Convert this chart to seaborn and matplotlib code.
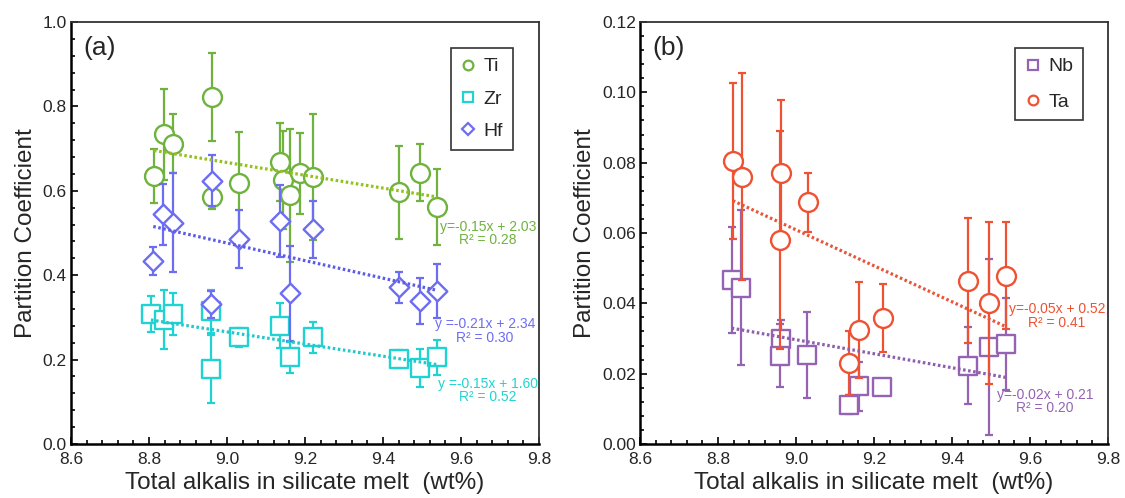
import numpy as np
import pandas as pd
import matplotlib
matplotlib.use("Agg")
import matplotlib.pyplot as plt
from matplotlib.ticker import AutoMinorLocator, FormatStrFormatter, MultipleLocator
from matplotlib.lines import Line2D
import seaborn as sns

# ---------------- data ----------------
# Panel (a)
ti_x = [8.813, 8.839, 8.862, 8.962, 8.962, 9.031, 9.137, 9.143, 9.162, 9.187, 9.221, 9.441, 9.495, 9.539]
ti_y = [0.636, 0.734, 0.712, 0.822, 0.586, 0.618, 0.669, 0.626, 0.589, 0.641, 0.633, 0.596, 0.643, 0.562]
ti_err = [0.064, 0.108, 0.071, 0.105, 0.028, 0.122, 0.092, 0.116, 0.158, 0.097, 0.150, 0.110, 0.068, 0.090]

zr_x = [8.805, 8.838, 8.862, 8.959, 8.959, 9.031, 9.137, 9.162, 9.221, 9.441, 9.495, 9.539]
zr_y = [0.308, 0.294, 0.308, 0.314, 0.178, 0.253, 0.280, 0.205, 0.253, 0.201, 0.181, 0.205]
zr_err = [0.043, 0.070, 0.050, 0.050, 0.080, 0.023, 0.053, 0.036, 0.037, 0.022, 0.045, 0.042]

hf_x = [8.811, 8.837, 8.862, 8.959, 8.962, 9.031, 9.137, 9.162, 9.221, 9.441, 9.495, 9.539]
hf_y = [0.434, 0.544, 0.524, 0.331, 0.624, 0.486, 0.529, 0.357, 0.509, 0.371, 0.339, 0.363]
hf_err = [0.033, 0.072, 0.117, 0.032, 0.060, 0.069, 0.085, 0.113, 0.068, 0.036, 0.054, 0.064]

# Panel (b)
nb_x = [8.835, 8.859, 8.962, 8.959, 9.029, 9.137, 9.162, 9.221, 9.440, 9.495, 9.538]
nb_y = [0.0467, 0.0445, 0.0298, 0.0251, 0.0254, 0.0112, 0.0164, 0.0161, 0.0223, 0.0277, 0.0284]
nb_err = [0.0150, 0.0220, 0.0055, 0.0090, 0.0122, 0.0026, 0.0069, 0.0015, 0.0110, 0.0250, 0.0130]

ta_x = [8.838, 8.862, 8.962, 8.959, 9.030, 9.137, 9.162, 9.222, 9.442, 9.495, 9.538]
ta_y = [0.0804, 0.0760, 0.0771, 0.0580, 0.0687, 0.0230, 0.0325, 0.0358, 0.0464, 0.0400, 0.0478]
ta_err = [0.0222, 0.0295, 0.0206, 0.0310, 0.0085, 0.0090, 0.0137, 0.0096, 0.0178, 0.0230, 0.0152]

# regression labels shown in the figure
fit_labels_a = {"Ti": "y=-0.15x + 2.03\nR\u00b2 = 0.28",
                "Hf": "y =-0.21x + 2.34\nR\u00b2 = 0.30",
                "Zr": "y =-0.15x + 1.60\nR\u00b2 = 0.52"}
fit_labels_b = {"Ta": "y=-0.05x + 0.52\nR\u00b2 = 0.41",
                "Nb": "y=-0.02x + 0.21\nR\u00b2 = 0.20"}

x_ticks = [8.6, 8.8, 9.0, 9.2, 9.4, 9.6, 9.8]
xlabel = "Total alkalis in silicate melt  (wt%)"
ylabel = "Partition Coefficient"

# ---------------- style ----------------
sns.set_style("ticks")
plt.rcParams["font.family"] = ["Liberation Sans", "DejaVu Sans"]

colors = {"Ti": "#6fb23e", "Zr": "#1fd3d3", "Hf": "#6d6df2",
          "Nb": "#9463b3", "Ta": "#ee5233"}
line_colors = {"Ti": "#93c11e", "Zr": "#22c8cc", "Hf": "#5c5ce8",
               "Nb": "#8d5fae", "Ta": "#e8553a"}
markers = {"Ti": "o", "Zr": "s", "Hf": "D", "Nb": "s", "Ta": "o"}
msize = {"Ti": 185, "Zr": 170, "Hf": 100, "Nb": 170, "Ta": 185}

fig = plt.figure(figsize=(11.25, 4.98), dpi=100)
axA = fig.add_axes([71/1125, 54/498, 468/1125, 422/498])
axB = fig.add_axes([640/1125, 54/498, 468/1125, 422/498])


def draw_series(ax, name, x, y, err, z):
    c = colors[name]
    ax.errorbar(x, y, yerr=err, fmt="none", ecolor=c, elinewidth=1.6,
                capsize=3, capthick=1.6, zorder=z)
    df = pd.DataFrame({"x": x, "y": y})
    sns.scatterplot(data=df, x="x", y="y", ax=ax, marker=markers[name],
                    s=msize[name], color="white", edgecolor=c,
                    linewidth=1.7, zorder=z + 0.5, legend=False)


def draw_fit(ax, name, x, y):
    df = pd.DataFrame({"x": x, "y": y})
    sns.regplot(data=df, x="x", y="y", ax=ax, scatter=False, ci=None,
                truncate=True,
                line_kws=dict(color=line_colors[name], lw=2.3,
                              linestyle=(0, (0.8, 0.8)), zorder=20))


# Panel (a)
draw_series(axA, "Ti", ti_x, ti_y, ti_err, 3)
draw_series(axA, "Zr", zr_x, zr_y, zr_err, 5)
draw_series(axA, "Hf", hf_x, hf_y, hf_err, 7)
draw_fit(axA, "Ti", ti_x, ti_y)
draw_fit(axA, "Hf", hf_x, hf_y)
draw_fit(axA, "Zr", zr_x, zr_y)

# Panel (b)
draw_series(axB, "Nb", nb_x, nb_y, nb_err, 3)
draw_series(axB, "Ta", ta_x, ta_y, ta_err, 5)
draw_fit(axB, "Ta", ta_x, ta_y)
draw_fit(axB, "Nb", nb_x, nb_y)

# fit annotations
for name, (tx, ty) in {"Ti": (9.669, 0.499), "Hf": (9.662, 0.268), "Zr": (9.669, 0.127)}.items():
    axA.text(tx, ty, fit_labels_a[name], color=colors[name], fontsize=10,
             ha="center", va="center", linespacing=0.95, zorder=30)
for name, (tx, ty) in {"Ta": (9.669, 0.0364), "Nb": (9.638, 0.01215)}.items():
    axB.text(tx, ty, fit_labels_b[name], color=colors[name], fontsize=10,
             ha="center", va="center", linespacing=0.95, zorder=30)

# axes formatting
for ax, ylim, ymaj, fmt, lab in [(axA, (0, 1.0), 0.2, "%.1f", "(a)"),
                                  (axB, (0, 0.12), 0.02, "%.2f", "(b)")]:
    ax.set_xlim(8.6, 9.8)
    ax.set_ylim(*ylim)
    ax.set_xticks(x_ticks)
    ax.xaxis.set_major_formatter(FormatStrFormatter("%.1f"))
    ax.yaxis.set_major_locator(MultipleLocator(ymaj))
    ax.yaxis.set_major_formatter(FormatStrFormatter(fmt))
    ax.xaxis.set_minor_locator(AutoMinorLocator(5))
    ax.yaxis.set_minor_locator(AutoMinorLocator(5))
    ax.tick_params(which="both", direction="in", top=False, right=False,
                   labelsize=12.5, width=1.2, color="black")
    ax.tick_params(which="major", length=5)
    ax.tick_params(which="minor", length=3)
    ax.tick_params(axis="x", pad=6)
    ax.tick_params(axis="y", pad=3)
    for s in ["left", "bottom"]:
        ax.spines[s].set_linewidth(1.8)
        ax.spines[s].set_color("black")
    for s in ["top", "right"]:
        ax.spines[s].set_visible(True)
        ax.spines[s].set_linewidth(1.3)
        ax.spines[s].set_color("#333333")
    ax.set_xlabel(xlabel, fontsize=17.5, labelpad=3)
    ax.set_ylabel(ylabel, fontsize=17.5, labelpad=4)
    ax.text(0.026, 0.938, lab, transform=ax.transAxes, fontsize=19,
            ha="left", va="center")


def make_legend(ax, names, anchor, spacing):
    handles = [Line2D([], [], linestyle="none", marker=markers[n],
                      markersize=(7 if n != "Hf" else 6), markerfacecolor="white",
                      markeredgecolor=colors[n], markeredgewidth=1.6, label=n)
               for n in names]
    leg = ax.legend(handles=handles, loc="upper right", bbox_to_anchor=anchor,
                    borderaxespad=0, frameon=True, fancybox=False,
                    fontsize=14, handlelength=0.8, handletextpad=0.4,
                    labelspacing=spacing, borderpad=0.5)
    leg.get_frame().set_edgecolor("black")
    leg.get_frame().set_linewidth(1.2)
    leg.set_zorder(40)


make_legend(axA, ["Ti", "Zr", "Hf"], (0.944, 0.938), 0.75)
make_legend(axB, ["Nb", "Ta"], (0.947, 0.938), 0.9)

fig.savefig("out.png", dpi=100)
